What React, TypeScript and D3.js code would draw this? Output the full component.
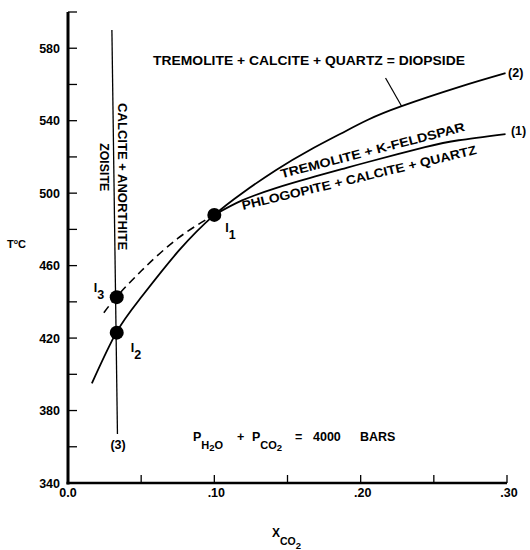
import * as d3 from 'd3';

// axis ticks
const xTicks = [0, 0.05, 0.1, 0.15, 0.2, 0.25, 0.3];
const xTickLabels = ['0.0', '', '.10', '', '.20', '', '.30'];
const yTicks = [340, 360, 380, 400, 420, 440, 460, 480, 500, 520, 540, 560, 580, 600];
const yTickLabels = ['340', '', '380', '', '420', '', '460', '', '500', '', '540', '', '580', ''];

// reaction (2): tremolite + calcite + quartz = diopside
const curve2X = [0.0163, 0.033, 0.05, 0.076, 0.1, 0.119, 0.142, 0.165, 0.187, 0.205, 0.228, 0.267, 0.299];
const curve2T = [395, 423, 442.5, 468.5, 488, 500, 512.7, 523.7, 533.1, 540.5, 548, 558.5, 566.2];

// reaction (1): tremolite + k-feldspar = phlogopite + calcite + quartz
const curve1X = [0.1, 0.119, 0.142, 0.165, 0.187, 0.205, 0.244, 0.267, 0.299];
const curve1T = [488, 496, 502.8, 508.3, 513.2, 517.2, 525.4, 529.2, 532.6];

// metastable part of (1)
const dashX = [0.0245, 0.033, 0.05, 0.075, 0.1];
const dashT = [434, 442.6, 457, 475, 488];

// reaction (3): zoisite = calcite + anorthite
const line3X = [0.030, 0.0338];
const line3T = [590, 367];

// invariant points
const ptNames = ['1', '2', '3'];
const ptX = [0.1, 0.0333, 0.0333];
const ptT = [488, 423, 442.6];

// leader to reaction (2)
const leaderX = [0.217, 0.228];
const leaderT = [563.6, 548];

const FONT = '"Liberation Sans", Arial, Helvetica, sans-serif';

export default function App() {
  const x = d3.scaleLinear().domain([0, 0.3]).range([68, 507]);
  const y = d3.scaleLinear().domain([340, 600]).range([483, 12]);

  const line = d3.line<[number, number]>()
    .x(d => x(d[0]))
    .y(d => y(d[1]))
    .curve(d3.curveNatural);
  const straight = d3.line<[number, number]>()
    .x(d => x(d[0]))
    .y(d => y(d[1]));

  const pts = (xs: number[], ts: number[]): [number, number][] => xs.map((v, i) => [v, ts[i]]);

  const rot = (px: number, pt: number, a: number) => `translate(${x(px)},${y(pt)}) rotate(${a})`;

  return (
    <svg width={530} height={550} style={{ position: 'absolute', left: 0, top: 0, background: '#fff' }}
      fontFamily={FONT} fontWeight="bold" fontSize={12.5} fill="#000">
      {/* axes */}
      <line x1={x(0)} x2={x(0)} y1={y(600)} y2={y(340) + 1.5} stroke="#000" strokeWidth={3} />
      <line x1={x(0) - 1.5} x2={x(0.3)} y1={y(340)} y2={y(340)} stroke="#000" strokeWidth={2.6} />
      {yTicks.map((t, i) => (
        <g key={'y' + t}>
          <line x1={x(0)} x2={x(0) + 9} y1={y(t)} y2={y(t)} stroke="#000" strokeWidth={1.3} />
          {yTickLabels[i] && (
            <text x={x(0) - 8} y={y(t) + 4.5} textAnchor="end">{yTickLabels[i]}</text>
          )}
        </g>
      ))}
      {xTicks.map((t, i) => (
        <g key={'x' + t}>
          <line x1={x(t)} x2={x(t)} y1={y(340)} y2={y(340) - 8} stroke="#000" strokeWidth={1.3} />
          {xTickLabels[i] && (
            <text x={x(t) + (i === 0 ? 0 : 2)} y={y(340) + 14} textAnchor="middle">{xTickLabels[i]}</text>
          )}
        </g>
      ))}

      {/* axis titles */}
      <text x={7} y={248} fontSize={11}>T<tspan fontSize={7} dy={-4}>o</tspan><tspan dy={4}>C</tspan></text>
      <text x={272} y={537} fontSize={12}>X<tspan fontSize={10.5} dy={8}>CO</tspan><tspan fontSize={9.5} dy={4}>2</tspan></text>

      {/* curves */}
      <path d={line(pts(curve2X, curve2T)) ?? ''} fill="none" stroke="#000" strokeWidth={1.8} />
      <path d={line(pts(curve1X, curve1T)) ?? ''} fill="none" stroke="#000" strokeWidth={1.8} />
      <path d={line(pts(dashX, dashT)) ?? ''} fill="none" stroke="#000" strokeWidth={1.6} strokeDasharray="8,5" />
      <path d={straight(pts(line3X, line3T)) ?? ''} fill="none" stroke="#000" strokeWidth={1.3} />
      <path d={straight(pts(leaderX, leaderT)) ?? ''} fill="none" stroke="#000" strokeWidth={1.2} />

      {/* invariant points */}
      {ptNames.map((n, i) => (
        <circle key={'c' + n} cx={x(ptX[i])} cy={y(ptT[i])} r={7} fill="#000" />
      ))}
      <text x={x(0.1) + 11} y={y(488) + 17}>I<tspan dy={7}>1</tspan></text>
      <text x={x(0.0333) + 14} y={y(423) + 19}>I<tspan dy={7}>2</tspan></text>
      <text x={x(0.0333) - 23} y={y(442.6) - 5}>I<tspan dy={7}>3</tspan></text>

      {/* reaction labels */}
      <text x={x(0.0581)} y={y(570.7)} textLength={312} lengthAdjust="spacingAndGlyphs">TREMOLITE +  CALCITE + QUARTZ  =  DIOPSIDE</text>
      <text x={x(0.3007)} y={y(564.1)}>(2)</text>
      <text x={x(0.3027)} y={y(532.1)}>(1)</text>
      <text x={x(0.0342)} y={y(358.8)} textAnchor="middle">(3)</text>
      <text transform={rot(0.146, 508.2, -14.5)} textLength={190} lengthAdjust="spacingAndGlyphs">TREMOLITE +  K-FELDSPAR</text>
      <text transform={rot(0.1196, 490.7, -13.5)} textLength={241} lengthAdjust="spacingAndGlyphs">PHLOGOPITE + CALCITE + QUARTZ</text>
      <text transform={rot(0.0342, 549.7, 90)} textLength={147} lengthAdjust="spacingAndGlyphs">CALCITE + ANORTHITE</text>
      <text transform={rot(0.0219, 527.6, 90)} textLength={48} lengthAdjust="spacingAndGlyphs">ZOISITE</text>

      {/* pressure note */}
      <text x={193} y={441}>
        P<tspan fontSize={11} dy={8}>H</tspan><tspan fontSize={9.5} dy={2}>2</tspan><tspan fontSize={11} dy={-2}>O</tspan>
        <tspan x={237} dy={-8}>+</tspan>
        <tspan x={252}>P</tspan><tspan fontSize={11} dy={8}>CO</tspan><tspan fontSize={9.5} dy={2}>2</tspan>
        <tspan x={295} dy={-10}>=</tspan>
        <tspan x={313}>4000</tspan>
        <tspan x={360}>BARS</tspan>
      </text>
    </svg>
  );
}
